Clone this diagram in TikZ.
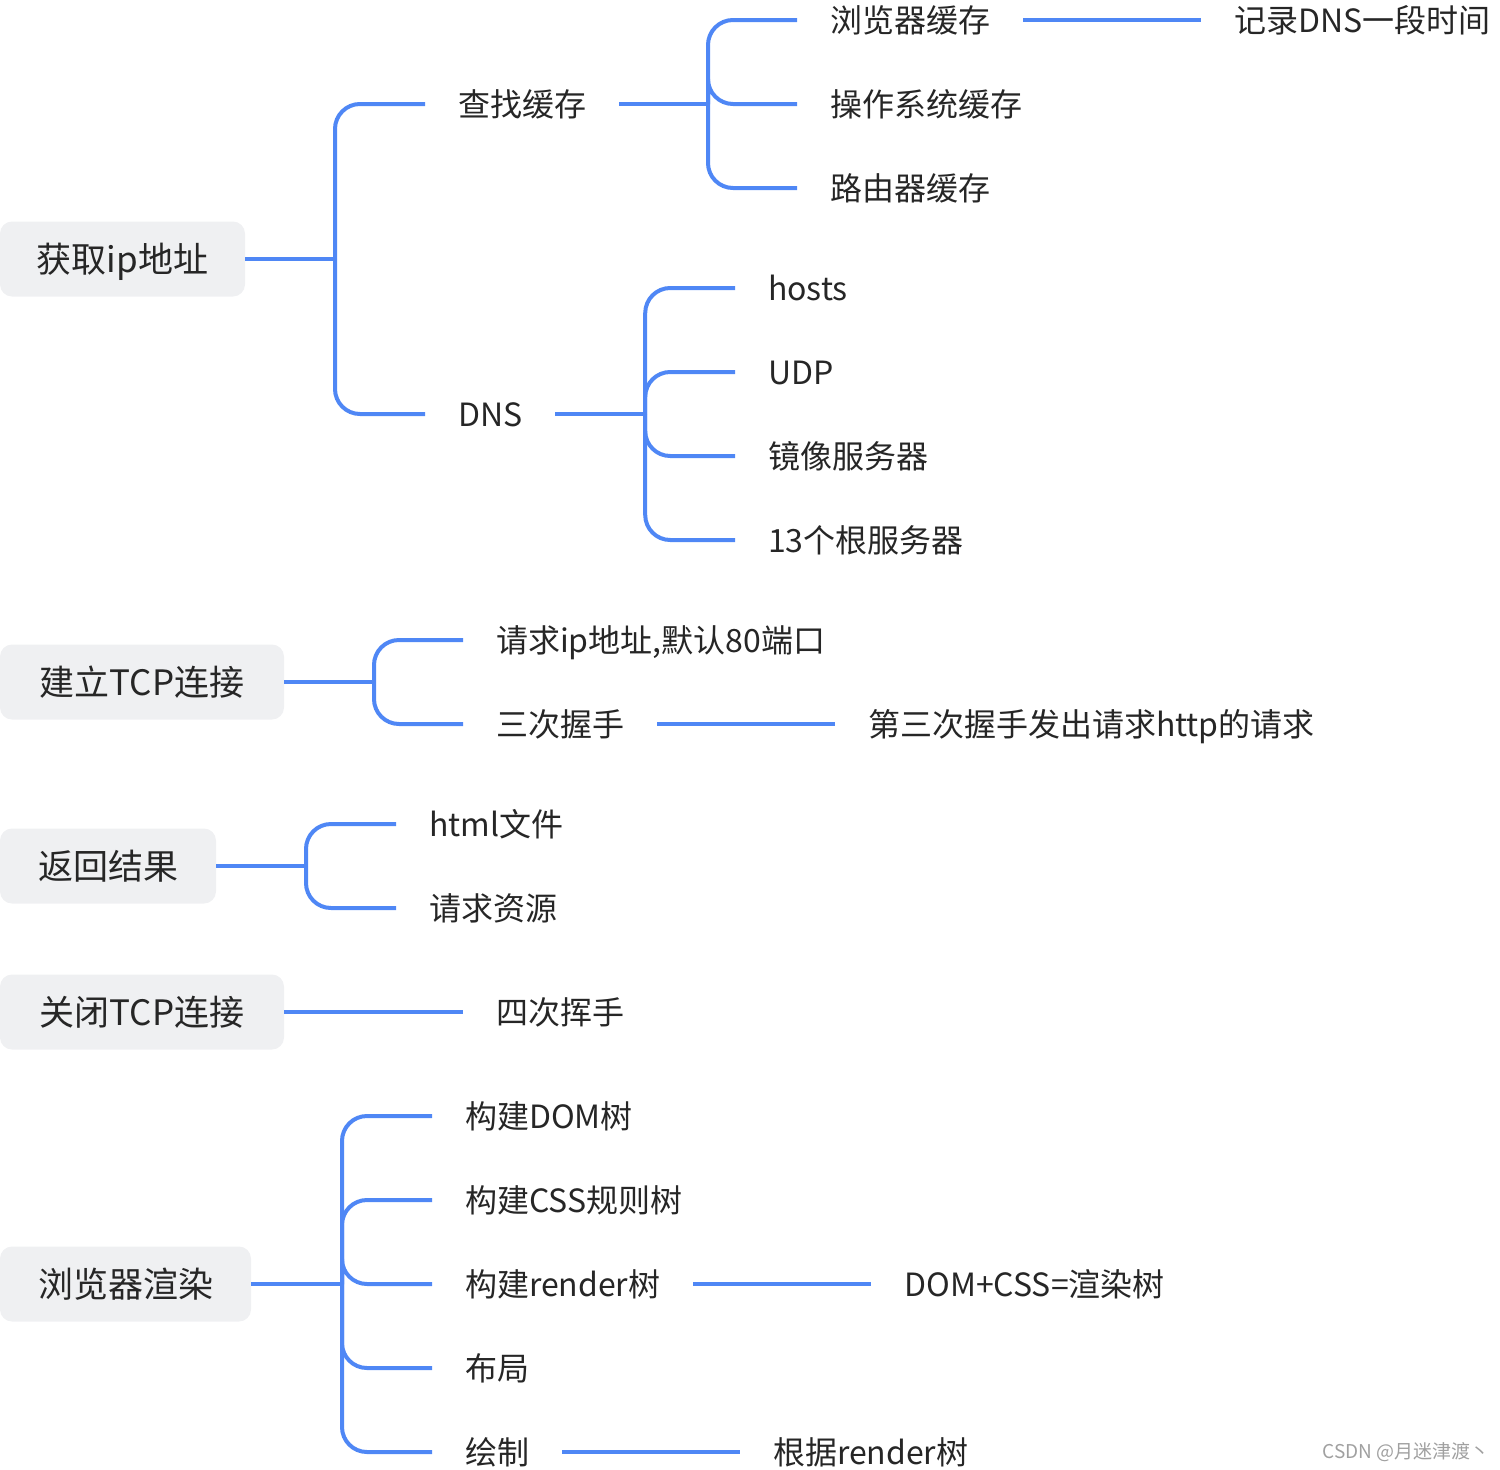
\documentclass[tikz,border=0pt]{standalone}
\usepackage{fontspec}
\setmainfont{Noto Sans CJK SC}
\usepackage{xcolor}
\definecolor{mindblue}{HTML}{4F87F5}
\definecolor{mindgray}{HTML}{EFF0F2}
\definecolor{minddark}{HTML}{262626}
\definecolor{markgray}{HTML}{A0A0A0}
\usepackage{tikz}
\usetikzlibrary{%
      positioning,%
      calc%
  }
\tikzset{
  rootbox/.style={fill=mindgray, rounded corners=12pt, minimum height=75pt,
    inner xsep=0pt, inner ysep=0pt, outer sep=0pt, text=minddark,
    font=\fontsize{35}{42}\selectfont, text height=31pt, text depth=4pt},
  leaf/.style={inner xsep=33pt, inner ysep=0pt, outer sep=0pt, text=minddark,
    font=\fontsize{32}{38}\selectfont, text height=28pt, text depth=4pt},
  link/.style={draw=mindblue, line width=4pt},
  branch/.style={link, rounded corners=25pt},
}

\begin{document}
\begin{tikzpicture}[x=1pt,y=-1pt]
    \useasboundingbox (0,0) rectangle (1500,1470);
    % roots
    \node[rootbox, anchor=west, minimum width=245pt] (getip) at (0,259) {获取ip地址};
    \node[rootbox, anchor=west, minimum width=284pt] (opentcp) at (0,682) {建立TCP连接};
    \node[rootbox, anchor=west, minimum width=216pt] (result) at (0,866) {返回结果};
    \node[rootbox, anchor=west, minimum width=284pt] (closetcp) at (0,1012) {关闭TCP连接};
    \node[rootbox, anchor=west, minimum width=251pt] (render) at (0,1284) {浏览器渲染};
    % getip
    \node[leaf, anchor=west] (cache) at (425,104) {查找缓存};
    \node[leaf, anchor=west] (dns) at (425,414) {DNS};
    \node[leaf, anchor=west] (browsercache) at (797,20) {浏览器缓存};
    \node[leaf, anchor=west] (oscache) at (797,104) {操作系统缓存};
    \node[leaf, anchor=west] (routercache) at (797,188) {路由器缓存};
    \node[leaf, right=178pt of browsercache] (dnstime) {记录DNS一段时间};
    \node[leaf, anchor=west] (hosts) at (735,288) {hosts};
    \node[leaf, anchor=west] (udp) at (735,372) {UDP};
    \node[leaf, anchor=west] (mirror) at (735,456) {镜像服务器};
    \node[leaf, anchor=west] (rootsrv) at (735,540) {13个根服务器};
    % tcp
    \node[leaf, anchor=west] (request) at (463,640) {请求ip地址,默认80端口};
    \node[leaf, anchor=west] (shake) at (463,724) {三次握手};
    \node[leaf, right=178pt of shake] (third) {第三次握手发出请求http的请求};
    \node[leaf, anchor=west] (html) at (396,824) {html文件};
    \node[leaf, anchor=west] (assets) at (396,908) {请求资源};
    \node[leaf, right=179pt of closetcp] (wave) {四次挥手};
    % render
    \node[leaf, anchor=west] (domtree) at (432,1116) {构建DOM树};
    \node[leaf, anchor=west] (csstree) at (432,1200) {构建CSS规则树};
    \node[leaf, anchor=west] (rendertree) at (432,1284) {构建render树};
    \node[leaf, anchor=west] (layout) at (432,1368) {布局};
    \node[leaf, anchor=west] (paint) at (432,1452) {绘制};
    \node[leaf, right=178pt of rendertree] (domcss) {DOM+CSS=渲染树};
    \node[leaf, right=178pt of paint] (byrender) {根据render树};
    % buses
    \coordinate (getipbus) at ($(getip.east)+(90,0)$);
    \coordinate (cachebus) at ($(cache.east)+(89,0)$);
    \coordinate (dnsbus) at ($(dns.east)+(90,0)$);
    \coordinate (opentcpbus) at ($(opentcp.east)+(90,0)$);
    \coordinate (resultbus) at ($(result.east)+(90,0)$);
    \coordinate (renderbus) at ($(render.east)+(91,0)$);
    % links
    \draw[link] (getip.east) -- (getipbus);
    \foreach \c in {cache,dns} \draw[branch] (getipbus) |- (\c.west);
    \draw[link] (cache.east) -- (cachebus);
    \foreach \c in {browsercache,oscache,routercache} \draw[branch] (cachebus) |- (\c.west);
    \draw[link] (browsercache.east) -- (dnstime.west);
    \draw[link] (dns.east) -- (dnsbus);
    \foreach \c in {hosts,udp,mirror,rootsrv} \draw[branch] (dnsbus) |- (\c.west);
    \draw[link] (opentcp.east) -- (opentcpbus);
    \foreach \c in {request,shake} \draw[branch] (opentcpbus) |- (\c.west);
    \draw[link] (shake.east) -- (third.west);
    \draw[link] (result.east) -- (resultbus);
    \foreach \c in {html,assets} \draw[branch] (resultbus) |- (\c.west);
    \draw[link] (closetcp.east) -- (wave.west);
    \draw[link] (render.east) -- (renderbus);
    \foreach \c in {domtree,csstree,rendertree,layout,paint} \draw[branch] (renderbus) |- (\c.west);
    \draw[link] (rendertree.east) -- (domcss.west);
    \draw[link] (paint.east) -- (byrender.west);
    % watermark
    \node[anchor=east, inner sep=0pt, text=markgray, font=\fontsize{19}{23}\selectfont] (mark) at (1490,1452) {CSDN @月迷津渡丶};
\end{tikzpicture}
\end{document}
